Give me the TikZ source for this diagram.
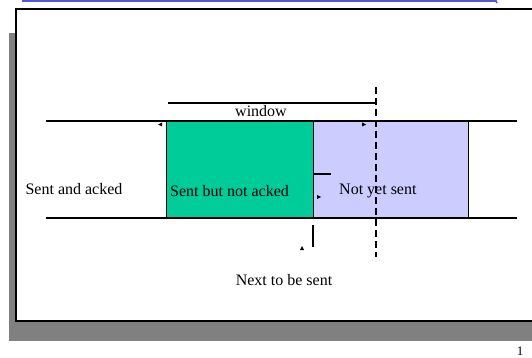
\documentclass[tikz,border=0pt]{standalone}
\usepackage{fontspec}
\setmainfont{Liberation Serif}
\definecolor{sgreen}{RGB}{0,204,153}
\definecolor{slav}{RGB}{204,204,255}
\definecolor{sblue}{RGB}{85,85,215}
\definecolor{sgray}{RGB}{128,128,128}
\begin{document}
\begin{tikzpicture}[x=1pt,y=-1pt,
  lbl/.style={font=\fontsize{16}{18}\selectfont, inner sep=0pt},
  tip/.style={fill=black}]
\useasboundingbox (0,0) rectangle (532,358);
\begin{scope}
\clip (0,0) rectangle (532,358);
% shadow and frame
\fill[sgray] (9,33) rectangle (540,341);
\draw[fill=white, line width=2pt] (16,9) rectangle (545,321);
% blue top line
\draw[sblue, line width=1.6pt] (22,1) -- (496,1) -- (497,3);
% boxes
\node[draw=black, line width=1.2pt, fill=sgreen, minimum width=147pt, minimum height=97pt, anchor=north west, inner sep=0pt] (g) at (166,121) {};
\node[draw=black, line width=1.2pt, fill=slav, minimum width=155pt, minimum height=97pt, anchor=north west, inner sep=0pt] (l) at (313,121) {};
% long horizontal lines
\coordinate (tl) at (46,121); \coordinate (tr) at (517,121);
\coordinate (bl) at (46,218); \coordinate (br) at (517,218);
\draw[line width=1.4pt] (tl) -- (tr);
\draw[line width=1.4pt] (bl) -- (br);
% window line
\coordinate (w1) at (168,103); \coordinate (w2) at (376,103);
\draw[line width=1.4pt] (w1) -- (w2);
\node[lbl] (win) at (261,111) {window};
% dashed line
\coordinate (d1) at (376,87); \coordinate (d2) at (376,257);
\draw[line width=1.3pt, dash pattern=on 7pt off 4pt] (d1) -- (d2);
% small marks
\coordinate (h1) at (313,174); \coordinate (h2) at (331,174);
\draw[line width=1.2pt] (h1) -- (h2);
\coordinate (v1) at (313,225); \coordinate (v2) at (313,247);
\draw[line width=1.2pt] (v1) -- (v2);
% tiny arrowheads
\fill[tip] (158,124.5) -- (162,122.5) -- (162,126.5) -- cycle;
\fill[tip] (366,124.5) -- (362,122.5) -- (362,126.5) -- cycle;
\fill[tip] (321,197) -- (317,195) -- (317,199) -- cycle;
\fill[tip] (302,246) -- (300,250) -- (304,250) -- cycle;
% labels
\node[lbl] (sa) at (74,189) {Sent and acked};
\node[lbl, anchor=west] (sb) at (170,191) {Sent but not acked};
\node[lbl, anchor=west] (ns) at (339,191) {Not yet sent};
\node[lbl] (nx) at (284,280) {Next to be sent};
\node[font=\fontsize{13}{14}\selectfont, inner sep=0pt, anchor=south] (pg) at (520,356) {1};
\end{scope}
\end{tikzpicture}
\end{document}
